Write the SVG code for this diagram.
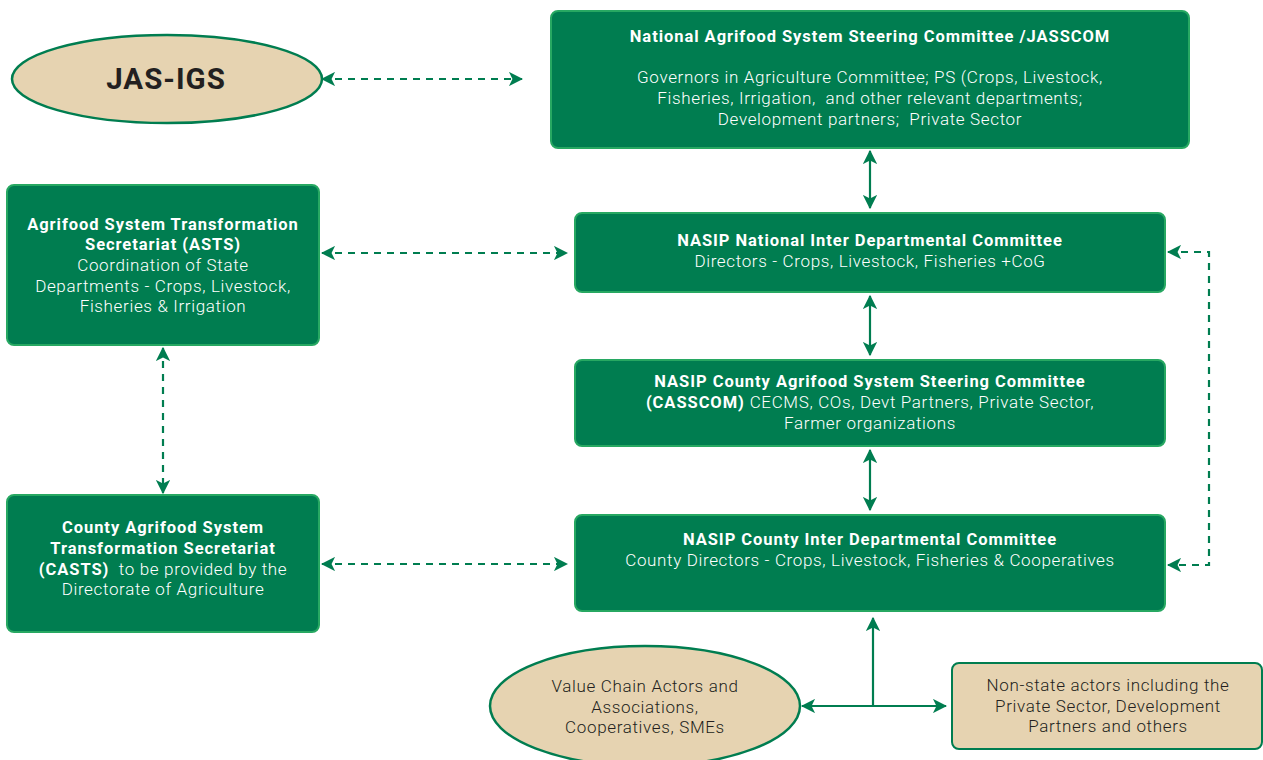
<svg xmlns="http://www.w3.org/2000/svg" width="1263" height="760" viewBox="0 0 1263 760">
<style>
.box{fill:#007d50;stroke:#27a862;stroke-width:2}
.tan{fill:#e6d3b1;stroke:#007d50;stroke-width:2.5}
.tanbox{fill:#e6d3b1;stroke:#007d50;stroke-width:2}
text{font-family:Roboto,"Liberation Sans",sans-serif;text-anchor:middle}
.w{fill:#ffffff;font-size:17px;font-weight:300;letter-spacing:0.65px}
.wb{fill:#ffffff;font-size:16.5px;font-weight:700;letter-spacing:0.95px}
.d{fill:#231f20;font-size:17px;font-weight:300;letter-spacing:0.65px}
.solid{stroke:#007d50;stroke-width:2.2;fill:none}
.dash{stroke:#007d50;stroke-width:2.2;fill:none;stroke-dasharray:7,6}
</style>
<defs>
<marker id="ah" viewBox="0 0 12 12" refX="11" refY="6" markerWidth="6.5" markerHeight="6.5" markerUnits="strokeWidth" orient="auto-start-reverse">
<path d="M0,0 L12,6 L0,12 L3,6 z" fill="#007d50"/>
</marker>
</defs>

<g id="connectors">
<line class="dash" x1="322" y1="79" x2="522" y2="79" marker-start="url(#ah)" marker-end="url(#ah)"/>
<line class="dash" x1="322" y1="253" x2="567" y2="253" marker-start="url(#ah)" marker-end="url(#ah)"/>
<line class="dash" x1="322" y1="564" x2="567" y2="564" marker-start="url(#ah)" marker-end="url(#ah)"/>
<line class="dash" x1="163" y1="348" x2="163" y2="493" marker-start="url(#ah)" marker-end="url(#ah)"/>
<polyline class="dash" points="1168,252 1209,252 1209,565 1168,565" marker-start="url(#ah)" marker-end="url(#ah)"/>
<line class="solid" x1="870" y1="151" x2="870" y2="208" marker-start="url(#ah)" marker-end="url(#ah)"/>
<line class="solid" x1="870" y1="296" x2="870" y2="355" marker-start="url(#ah)" marker-end="url(#ah)"/>
<line class="solid" x1="870" y1="450" x2="870" y2="510" marker-start="url(#ah)" marker-end="url(#ah)"/>
<line class="solid" x1="873" y1="706" x2="873" y2="618" marker-end="url(#ah)"/>
<line class="solid" x1="802" y1="706" x2="946" y2="706" marker-start="url(#ah)" marker-end="url(#ah)"/>
</g>

<g id="jas-igs">
<ellipse class="tan" cx="167" cy="79" rx="155" ry="44"/>
<text x="166" y="89" style="fill:#231f20;font-size:29.5px;font-weight:700;letter-spacing:1px">JAS-IGS</text>
</g>

<g id="jasscom">
<rect class="box" x="551" y="11" width="638" height="137" rx="7"/>
<text class="wb" x="870" y="42">National Agrifood System Steering Committee /JASSCOM</text>
<text class="w" x="870" y="83">Governors in Agriculture Committee; PS (Crops, Livestock,</text>
<text class="w" x="870" y="104" xml:space="preserve">Fisheries, Irrigation,  and other relevant departments;</text>
<text class="w" x="870" y="125" xml:space="preserve">Development partners;  Private Sector</text>
</g>

<g id="asts">
<rect class="box" x="7" y="185" width="312" height="160" rx="7"/>
<text class="wb" x="163" y="230">Agrifood System Transformation</text>
<text class="wb" x="163" y="250">Secretariat (ASTS)</text>
<text class="w" x="163" y="271">Coordination of State</text>
<text class="w" x="163" y="292">Departments - Crops, Livestock,</text>
<text class="w" x="163" y="312">Fisheries &amp; Irrigation</text>
</g>

<g id="nasip-national">
<rect class="box" x="575" y="213" width="590" height="79" rx="7"/>
<text class="wb" x="870" y="246">NASIP National Inter Departmental Committee</text>
<text class="w" x="870" y="267">Directors - Crops, Livestock, Fisheries +CoG</text>
</g>

<g id="casscom">
<rect class="box" x="575" y="360" width="590" height="86" rx="7"/>
<text class="wb" x="870" y="387">NASIP County Agrifood System Steering Committee</text>
<text x="870" y="408"><tspan class="wb">(CASSCOM)</tspan><tspan class="w"> CECMS, COs, Devt Partners, Private Sector,</tspan></text>
<text class="w" x="870" y="429">Farmer organizations</text>
</g>

<g id="nasip-county">
<rect class="box" x="575" y="515" width="590" height="96" rx="7"/>
<text class="wb" x="870" y="545">NASIP County Inter Departmental Committee</text>
<text class="w" x="870" y="566">County Directors - Crops, Livestock, Fisheries &amp; Cooperatives</text>
</g>

<g id="casts">
<rect class="box" x="7" y="495" width="312" height="137" rx="7"/>
<text class="wb" x="163" y="533">County Agrifood System</text>
<text class="wb" x="163" y="554">Transformation Secretariat</text>
<text x="163" y="575" xml:space="preserve"><tspan class="wb">(CASTS)</tspan><tspan class="w">  to be provided by the</tspan></text>
<text class="w" x="163" y="595">Directorate of Agriculture</text>
</g>

<g id="value-chain">
<ellipse class="tan" cx="645" cy="706" rx="155" ry="60"/>
<text class="d" x="645" y="692">Value Chain Actors and</text>
<text class="d" x="645" y="713">Associations,</text>
<text class="d" x="645" y="733">Cooperatives, SMEs</text>
</g>

<g id="non-state">
<rect class="tanbox" x="952" y="663" width="310" height="86" rx="7"/>
<text class="d" x="1108" y="691">Non-state actors including the</text>
<text class="d" x="1108" y="712">Private Sector, Development</text>
<text class="d" x="1108" y="732">Partners and others</text>
</g>
</svg>
